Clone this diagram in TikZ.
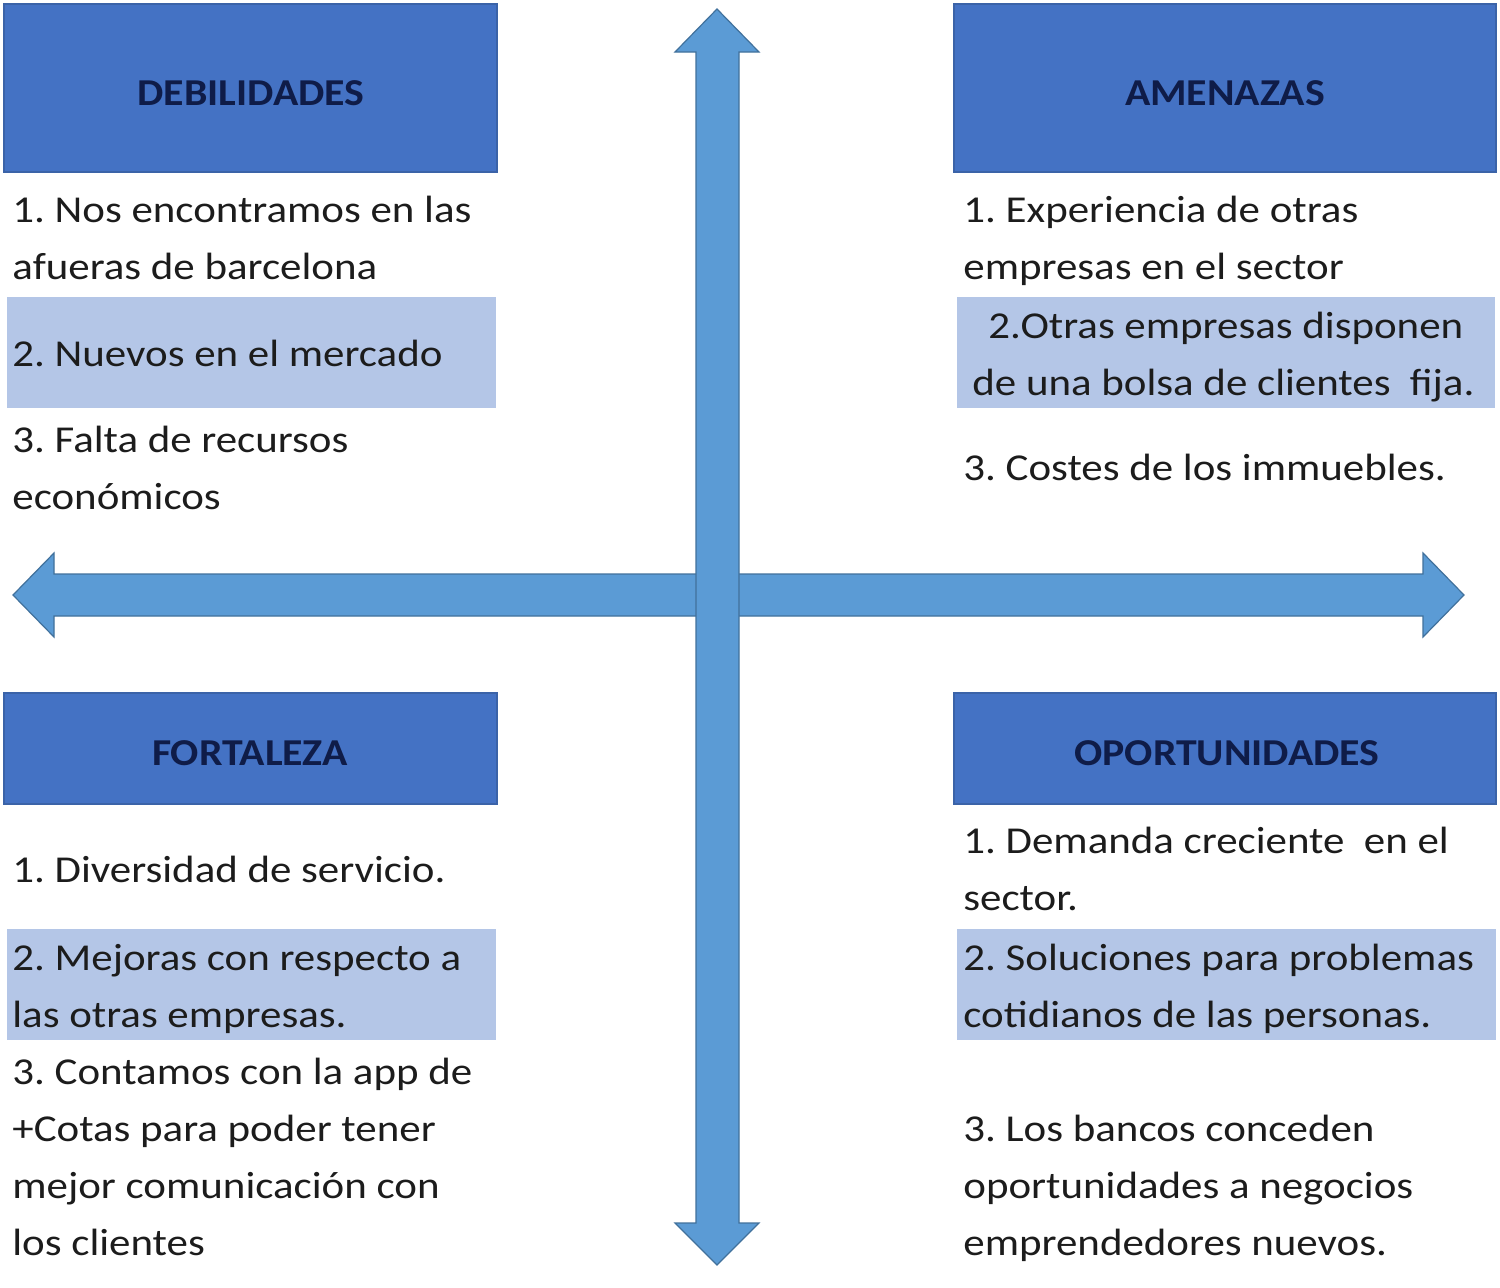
\documentclass[tikz,border=0pt]{standalone}
\usepackage{fontspec}
\setmainfont{Carlito}
\newfontfamily\itemfont[FakeStretch=1.13]{Carlito}
\newfontfamily\hdrfont[FakeStretch=1.1]{Carlito}
\frenchspacing
\definecolor{hdrblue}{HTML}{4472C4}
\definecolor{hdrline}{HTML}{3B63A8}
\definecolor{band}{HTML}{B4C6E7}
\definecolor{arrfill}{HTML}{5B9BD5}
\definecolor{arrline}{HTML}{41719C}
\definecolor{txt}{HTML}{1C1C1C}
\definecolor{hdrtxt}{HTML}{0F1C48}
\tikzset{
  hdrbox/.style={fill=hdrblue,draw=hdrline,line width=0.6pt},
  bandbox/.style={fill=band},
  hdrlabel/.style={anchor=base,inner sep=0pt,text=hdrtxt,font=\hdrfont\fontsize{19}{22}\selectfont\bfseries},
  item/.style={anchor=base west,inner sep=0pt,text=txt,font=\itemfont\fontsize{19}{22}\selectfont},
  arrowshape/.style={fill=arrfill,draw=arrline,line width=0.6pt,line join=miter}
}
\begin{document}
\begin{tikzpicture}[x=0.5pt,y=-0.5pt]
\useasboundingbox[fill=white] (0,0) rectangle (1500,1287);
% header boxes
\draw[hdrbox] (4,4) rectangle (497,172);
\draw[hdrbox] (954,4) rectangle (1496,172);
\draw[hdrbox] (4,693) rectangle (497,804);
\draw[hdrbox] (954,693) rectangle (1496,804);
% light bands
\fill[bandbox] (7,297) rectangle (496,408);
\fill[bandbox] (957,297) rectangle (1495,408);
\fill[bandbox] (7,929) rectangle (496,1040);
\fill[bandbox] (957,929) rectangle (1496,1040);
% arrows
\draw[arrowshape] (13,595) -- (54,553) -- (54,574) -- (1423,574) -- (1423,553) -- (1464,595)
  -- (1423,637) -- (1423,616) -- (54,616) -- (54,637) -- cycle;
\draw[arrowshape] (717,9) -- (759,52) -- (739,52) -- (739,1223) -- (759,1223) -- (717,1265)
  -- (675,1223) -- (696,1223) -- (696,52) -- (675,52) -- cycle;
% headers
\node[hdrlabel] (hdeb) at (251,105) {DEBILIDADES};
\node[hdrlabel] (hame) at (1225,105) {AMENAZAS};
\node[hdrlabel] (hfor) at (250,765) {FORTALEZA};
\node[hdrlabel] (hopo) at (1227,765) {OPORTUNIDADES};
% debilidades
\node[item] (d1a) at (12,222) {1. Nos encontramos en las};
\node[item] (d1b) at (12,279) {afueras de barcelona};
\node[item] (d2) at (12,366) {2. Nuevos en el mercado};
\node[item] (d3a) at (12,452) {3. Falta de recursos};
\node[item] (d3b) at (12,509) {económicos};
% amenazas
\node[item] (a1a) at (963,222) {1. Experiencia de otras};
\node[item] (a1b) at (963,279) {empresas en el sector};
\node[item] (a2a) at (988,338) {2.Otras empresas disponen};
\node[item] (a2b) at (972,395) {de una bolsa de clientes\ \ fija.};
\node[item] (a3) at (963,480) {3. Costes de los immuebles.};
% fortaleza
\node[item] (f1) at (12,882) {1. Diversidad de servicio.};
\node[item] (f2a) at (12,970) {2. Mejoras con respecto a};
\node[item] (f2b) at (12,1027) {las otras empresas.};
\node[item] (f3a) at (12,1084) {3. Contamos con la app de};
\node[item] (f3b) at (12,1141) {+Cotas para poder tener};
\node[item] (f3c) at (12,1198) {mejor comunicación con};
\node[item] (f3d) at (12,1255) {los clientes};
% oportunidades
\node[item] (o1a) at (963,853) {1. Demanda creciente\ \ en el};
\node[item] (o1b) at (963,910) {sector.};
\node[item] (o2a) at (963,970) {2. Soluciones para problemas};
\node[item] (o2b) at (963,1027) {cotidianos de las personas.};
\node[item] (o3a) at (963,1141) {3. Los bancos conceden};
\node[item] (o3b) at (963,1198) {oportunidades a negocios};
\node[item] (o3c) at (963,1255) {emprendedores nuevos.};
\end{tikzpicture}
\end{document}
